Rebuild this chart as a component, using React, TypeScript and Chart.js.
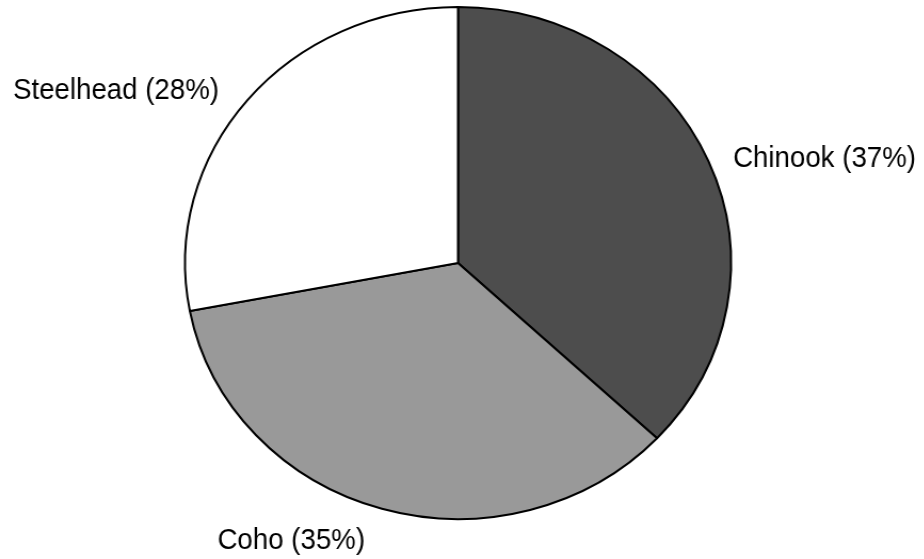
import React, { useEffect, useRef } from "react";
import { Chart, registerables } from "chart.js";

Chart.register(...registerables);

const categories = ["Chinook", "Coho", "Steelhead"];
const values = [37, 35, 28];
const sliceColors = ["#4d4d4d", "#999999", "#ffffff"];

const STRETCH_X = 1.0664;
const TEXT_SCALE_X = 0.954;

const outLabelsPlugin = {
  id: "outLabels",
  afterDatasetsDraw(chart: any, _args: any, opts: any) {
    const ctx = chart.ctx;
    const meta = chart.getDatasetMeta(0);
    const nudges: number[][] = opts.nudges || [];
    const aligns: string[] = opts.aligns || [];
    const total = values.reduce((a, b) => a + b, 0);
    meta.data.forEach((arc: any, i: number) => {
      const p = arc.getProps(["x", "y", "startAngle", "endAngle", "outerRadius"], true);
      const mid = (p.startAngle + p.endAngle) / 2;
      const r = p.outerRadius + (opts.gap || 0);
      const n = nudges[i] || [0, 0];
      const x = p.x + Math.cos(mid) * r + n[0];
      const y = p.y + Math.sin(mid) * r + n[1];
      const pct = Math.round((values[i] / total) * 100);
      ctx.save();
      ctx.font = opts.font;
      ctx.fillStyle = "#000";
      ctx.textBaseline = "alphabetic";
      ctx.textAlign = aligns[i] || "center";
      ctx.translate(x, y);
      ctx.scale(TEXT_SCALE_X / STRETCH_X, 1);
      ctx.fillText(`${categories[i]} (${pct}%)`, 0, 0);
      ctx.restore();
    });
  },
};

export default function App() {
  const ref = useRef<HTMLCanvasElement | null>(null);
  useEffect(() => {
    document.body.style.margin = "0";
    const canvas = ref.current!;
    const chart = new Chart(canvas, {
      type: "pie",
      data: {
        labels: categories,
        datasets: [
          {
            data: values,
            backgroundColor: sliceColors,
            borderColor: "#000000",
            borderWidth: 2,
          },
        ],
      },
      options: {
        responsive: false,
        animation: false,
        devicePixelRatio: 1,
        layout: { padding: { left: 172.5, right: 179.5, top: 6, bottom: 39 } },
        plugins: {
          legend: { display: false },
          tooltip: { enabled: false },
          outLabels: {
            font: '29px "Liberation Sans", Arial, sans-serif',
            gap: 25,
            aligns: ["left", "center", "right"],
            nudges: [
              [0, 15.6],
              [-78, 16],
              [-7.6, 15],
            ],
          },
        } as any,
      },
      plugins: [outLabelsPlugin],
    });
    return () => chart.destroy();
  }, []);
  return (
    <div style={{ width: 924, height: 559, overflow: "hidden", background: "#fff" }}>
      <canvas
        ref={ref}
        width={866}
        height={559}
        style={{ display: "block", transform: `scaleX(${STRETCH_X})`, transformOrigin: "0 0" }}
      />
    </div>
  );
}
